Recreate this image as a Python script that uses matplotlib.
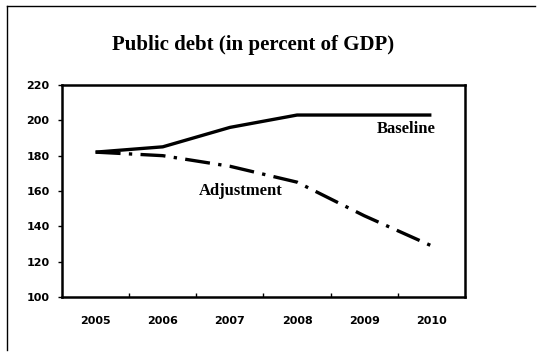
import numpy as np
import matplotlib.pyplot as plt
from matplotlib.lines import Line2D

years = ['2005', '2006', '2007', '2008', '2009', '2010']
baseline = [182, 185, 196, 203, 203, 203]
adjustment = [182, 180, 174, 165, 146, 129]

fig = plt.figure(figsize=(5.41, 3.56), dpi=100)
ax = fig.add_axes([62/541, 1-297/356, (465-62)/541, (297-85)/356])

x = np.arange(len(years))
ax.plot(x, baseline, color='black', lw=2.4, solid_capstyle='butt')
ax.plot(x, adjustment, color='black', lw=2.4, dashes=(7.5, 2.5, 1, 2.5))

ax.set_xlim(-0.5, 5.5)
ax.set_ylim(100, 220)
ax.set_yticks(range(100, 221, 20))
ax.set_xticks(x)
ax.set_xticklabels(years)
ax.set_xticks(np.arange(0.5, 5.5, 1), minor=True)
ax.tick_params(axis='x', which='major', length=0, pad=14)
ax.tick_params(axis='x', which='minor', direction='in', length=3, width=1)
ax.tick_params(axis='y', direction='out', length=3, width=1, pad=6)
for lab in ax.get_xticklabels() + ax.get_yticklabels():
    lab.set_fontfamily('DejaVu Sans')
    lab.set_fontweight('bold')
    lab.set_fontsize(8)
for s in ax.spines.values():
    s.set_linewidth(1.8)

ax.text(4.63, 195, 'Baseline', ha='center', va='center',
        family='Liberation Serif', fontsize=12, fontweight='bold')
ax.text(2.16, 160, 'Adjustment', ha='center', va='center',
        family='Liberation Serif', fontsize=12, fontweight='bold')

fig.text(253/541, 1-45/356, 'Public debt (in percent of GDP)', ha='center', va='center',
         family='Liberation Serif', fontsize=15, fontweight='bold')

# outer frame: left and top edges only
fig.add_artist(Line2D([7/541, 7/541], [1-350/356, 1-6/356], color='black', lw=1))
fig.add_artist(Line2D([7/541, 535/541], [1-6/356, 1-6/356], color='black', lw=1))

fig.savefig('out.png', dpi=100)
